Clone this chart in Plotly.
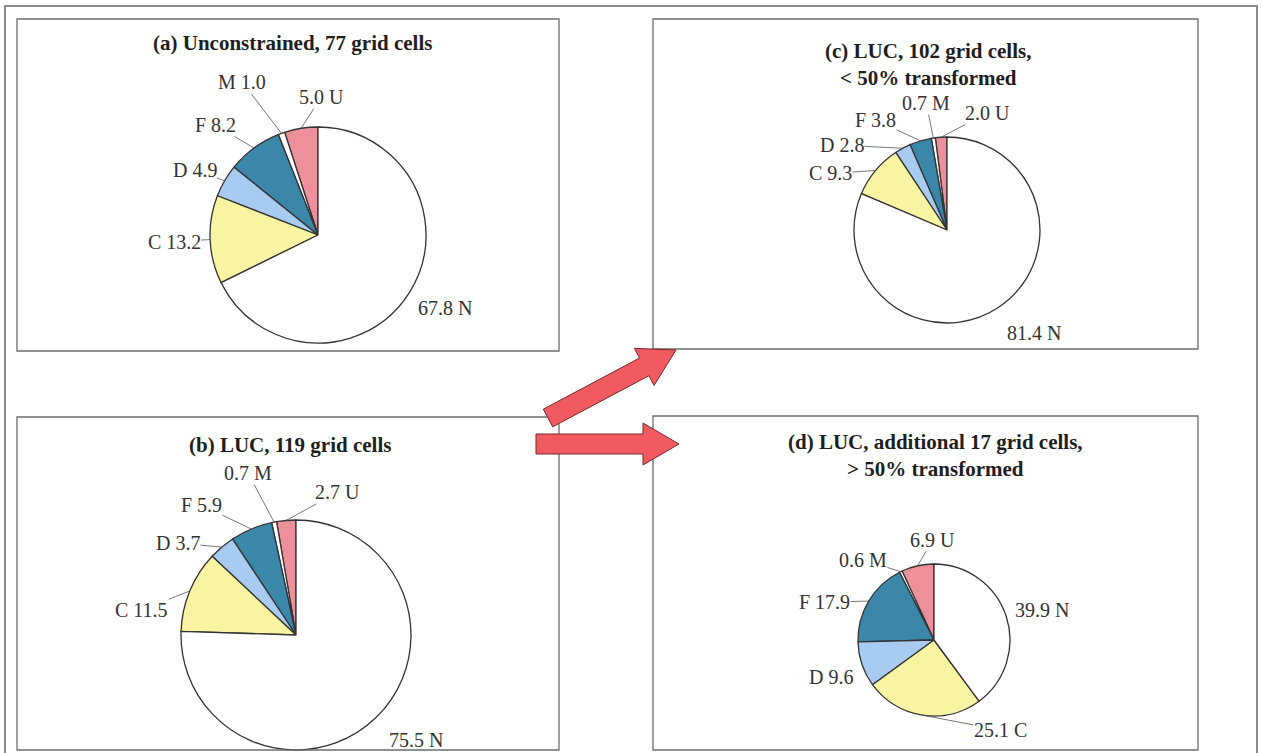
import math
import plotly.graph_objects as go

# ---------------- data ----------------
categories = ["U", "M", "F", "D", "C", "N"]
panel_ids = ["a", "b", "c", "d"]
panel_titles = {
    "a": "(a) Unconstrained, 77 grid cells",
    "b": "(b) LUC, 119 grid cells",
    "c": "(c) LUC, 102 grid cells,<br>&lt; 50% transformed",
    "d": "(d) LUC, additional 17 grid cells,<br>&gt; 50% transformed",
}
values_a = [5.0, 1.0, 8.2, 4.9, 13.2, 67.8]
values_b = [2.7, 0.7, 5.9, 3.7, 11.5, 75.5]
values_c = [2.0, 0.7, 3.8, 2.8, 9.3, 81.4]
values_d = [6.9, 0.6, 17.9, 9.6, 25.1, 39.9]
panel_values = {"a": values_a, "b": values_b, "c": values_c, "d": values_d}

# ---------------- style / layout ----------------
W, H = 1262, 753
slice_colors = ["#EE8F9C", "#FFFFFF", "#3B87A9", "#A8CBF2", "#F8F4A2", "#FFFFFF"]

# pie centre / radius (px)
pie_geom = {"a": (318, 235, 108), "b": (296, 635, 115),
            "c": (947, 230, 93), "d": (934, 640, 76)}
# panel boxes (px): x0, y0, x1, y1
boxes = {"a": (17, 19, 559, 351), "b": (17, 417, 559, 750),
         "c": (653, 19, 1198, 349), "d": (653, 416, 1198, 750)}
title_pos = {"a": (292, 43), "b": (290, 445), "c": (928, 64), "d": (935, 455)}
# label order: True => "value cat", False => "cat value"
value_first = {
    "a": [True, False, False, False, False, True],
    "b": [True, True, False, False, False, True],
    "c": [True, True, False, False, False, True],
    "d": [True, True, False, False, True, True],
}
# label text offsets from slice mid-point on rim (px) and leader flag
label_offsets = {
    "a": [(20, -31, 1), (-39, -51, 1), (-39, -23, 1), (-30, -11, 1), (-36, 2, 1), (35, 16, 0)],
    "b": [(51, -28, 1), (-26, -49, 1), (-50, -24, 1), (-44, -4, 1), (-48, 19, 1), (40, 22, 0)],
    "c": [(46, -24, 1), (-7, -35, 1), (-45, -21, 1), (-61, -3, 1), (-45, 3, 1), (36, 25, 0)],
    "d": [(15, -26, 1), (-38, -12, 1), (-44, 1, 1), (-31, 13, 0), (78, 15, 1), (36, -6, 0)],
}
arrows = [((548, 418), (676, 350)), ((536, 444), (679, 444))]

FONT = "Liberation Serif, Times New Roman, serif"
LABEL_SIZE = 20
TITLE_SIZE = 21


def px(x):
    return x / W


def py(y):
    return 1 - y / H


fig = go.Figure()
annotations = []
shapes = []

# outer frame
shapes.append(dict(type="rect", xref="paper", yref="paper",
                   x0=px(5), x1=px(1257), y0=py(6), y1=py(770),
                   line=dict(color="#8a8a8a", width=2), fillcolor="rgba(0,0,0,0)"))

for pid in panel_ids:
    vals = panel_values[pid]
    cx, cy, r = pie_geom[pid]
    bx0, by0, bx1, by1 = boxes[pid]
    total = sum(vals)
    shapes.append(dict(type="rect", xref="paper", yref="paper",
                       x0=px(bx0), x1=px(bx1), y0=py(by1), y1=py(by0),
                       line=dict(color="#6e6e6e", width=1.3), fillcolor="rgba(0,0,0,0)"))
    # plotly's counterclockwise pies end the first slice at `rotation`;
    # shift so the first slice starts at 12 o'clock
    fig.add_trace(go.Pie(
        values=vals, labels=categories, sort=False, direction="counterclockwise",
        rotation=-vals[0] / total * 360, textinfo="none", hoverinfo="label+value",
        showlegend=False,
        marker=dict(colors=slice_colors, line=dict(color="#333333", width=1.3)),
        domain=dict(x=[px(cx - r), px(cx + r)], y=[py(cy + r), py(cy - r)]),
    ))
    tx, ty = title_pos[pid]
    annotations.append(dict(x=px(tx), y=py(ty), xref="paper", yref="paper",
                            text="<b>" + panel_titles[pid] + "</b>", showarrow=False,
                            xanchor="center", yanchor="middle",
                            font=dict(family=FONT, size=TITLE_SIZE, color="#1e1e1e")))
    cum = 0.0
    for i, (cat, v) in enumerate(zip(categories, vals)):
        mid = (cum + v / 2) / total * 2 * math.pi
        cum += v
        ax_pt = cx - r * math.sin(mid)
        ay_pt = cy - r * math.cos(mid)
        txt = f"{v:.1f} {cat}" if value_first[pid][i] else f"{cat} {v:.1f}"
        dx, dy, line = label_offsets[pid][i]
        f = dict(family=FONT, size=LABEL_SIZE, color="#333333")
        if line:
            annotations.append(dict(x=px(ax_pt), y=py(ay_pt), xref="paper", yref="paper",
                                    text=txt, showarrow=True, arrowhead=0, arrowwidth=0.8,
                                    arrowcolor="#555555", ax=dx, ay=dy, standoff=0,
                                    font=f, borderpad=0))
        else:
            annotations.append(dict(x=px(ax_pt + dx), y=py(ay_pt + dy), xref="paper",
                                    yref="paper", text=txt, showarrow=False,
                                    xanchor="center", yanchor="middle", font=f))

# red arrows between panels
for (tail, tip) in arrows:
    hw, hhw, hl = 10, 21, 36
    L = math.hypot(tip[0] - tail[0], tip[1] - tail[1])
    ux, uy = (tip[0] - tail[0]) / L, (tip[1] - tail[1]) / L
    nx, ny = -uy, ux
    bx, by = tip[0] - ux * hl, tip[1] - uy * hl
    pts = [(tail[0] + nx * hw, tail[1] + ny * hw), (bx + nx * hw, by + ny * hw),
           (bx + nx * hhw, by + ny * hhw), tip, (bx - nx * hhw, by - ny * hhw),
           (bx - nx * hw, by - ny * hw), (tail[0] - nx * hw, tail[1] - ny * hw)]
    path = "M " + " L ".join(f"{px(x):.5f},{py(y):.5f}" for x, y in pts) + " Z"
    shapes.append(dict(type="path", xref="paper", yref="paper", path=path,
                       fillcolor="#F05A60", line=dict(color="#7a2a2a", width=1)))

fig.update_layout(width=W, height=H, margin=dict(l=0, r=0, t=0, b=0),
                  paper_bgcolor="white", plot_bgcolor="white",
                  shapes=shapes, annotations=annotations)

fig.write_html("out.html", config={"displayModeBar": False},
               post_script="document.body.style.margin='0px';")
